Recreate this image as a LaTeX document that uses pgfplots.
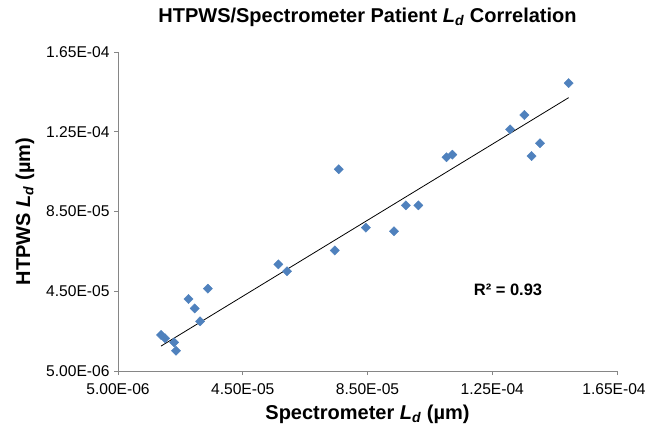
\documentclass[border=0pt]{standalone}
\usepackage{fontspec}
\setmainfont{Liberation Sans}
\usepackage{pgfplots}
\pgfplotsset{compat=1.18}
\definecolor{ptblue}{HTML}{4F81BD}
\definecolor{axgray}{HTML}{868686}
\begin{document}
\begin{tikzpicture}[x=1pt,y=1pt]
\path[use as bounding box] (0,0) rectangle (647,434);
\begin{axis}[
  at={(118pt,63pt)}, anchor=south west,
  scale only axis, width=499pt, height=319pt,
  xmin=5e-6, xmax=1.65e-4, ymin=5e-6, ymax=1.65e-4,
  scaled ticks=false,
  axis x line=bottom, axis y line=left,
  axis line style={axgray, -, line width=0.8pt},
  tick align=outside, major tick length=4pt,
  tick style={axgray, line width=0.8pt},
  xtick={5e-6,4.5e-5,8.5e-5,1.25e-4,1.65e-4},
  xticklabels={5.00E-06,4.50E-05,8.50E-05,1.25E-04,1.65E-04\kern6pt},
  ytick={5e-6,4.5e-5,8.5e-5,1.25e-4,1.65e-4},
  yticklabels={5.00E-06,4.50E-05,8.50E-05,1.25E-04,1.65E-04},
  /pgf/number format/assume math mode=true,
  ticklabel style={font=\fontsize{15.6}{18}\selectfont, text=black},
  xticklabel style={yshift=-5pt},
  yticklabel style={xshift=-1pt},
  clip=false,
]
\addplot[only marks, mark=diamond*, mark size=4.6pt, mark options={xscale=1.333, fill=ptblue, draw=ptblue}]
  table {
x y
1.88e-5 2.31e-5
2.01e-5 2.14e-5
2.30e-5 1.94e-5
2.36e-5 1.52e-5
2.76e-5 4.11e-5
2.96e-5 3.64e-5
3.13e-5 2.99e-5
3.38e-5 4.63e-5
5.64e-5 5.85e-5
5.92e-5 5.50e-5
7.58e-5 1.062e-4
7.45e-5 6.55e-5
8.45e-5 7.69e-5
9.35e-5 7.51e-5
9.73e-5 8.81e-5
1.013e-4 8.81e-5
1.103e-4 1.122e-4
1.122e-4 1.135e-4
1.307e-4 1.262e-4
1.353e-4 1.334e-4
1.376e-4 1.128e-4
1.403e-4 1.192e-4
1.495e-4 1.494e-4
};
\addplot[black, line width=0.8pt] coordinates {(1.88e-5,1.75e-5) (1.495e-4,1.421e-4)};
\end{axis}
\node[font=\bfseries\fontsize{20}{24}\selectfont] at (367.5,417) {HTPWS/Spectrometer Patient \textit{L}\textsubscript{\textit{d}} Correlation};
\node[font=\bfseries\fontsize{20}{24}\selectfont] at (367.5,19.5) {Spectrometer \textit{L}\textsubscript{\textit{d}} (µm)};
\node[font=\bfseries\fontsize{20}{24}\selectfont, rotate=90] at (25,222.5) {HTPWS \textit{L}\textsubscript{\textit{d}} (µm)};
\node[font=\bfseries\fontsize{16.5}{19}\selectfont] at (508,144) {R² = 0.93};
\end{tikzpicture}
\end{document}
